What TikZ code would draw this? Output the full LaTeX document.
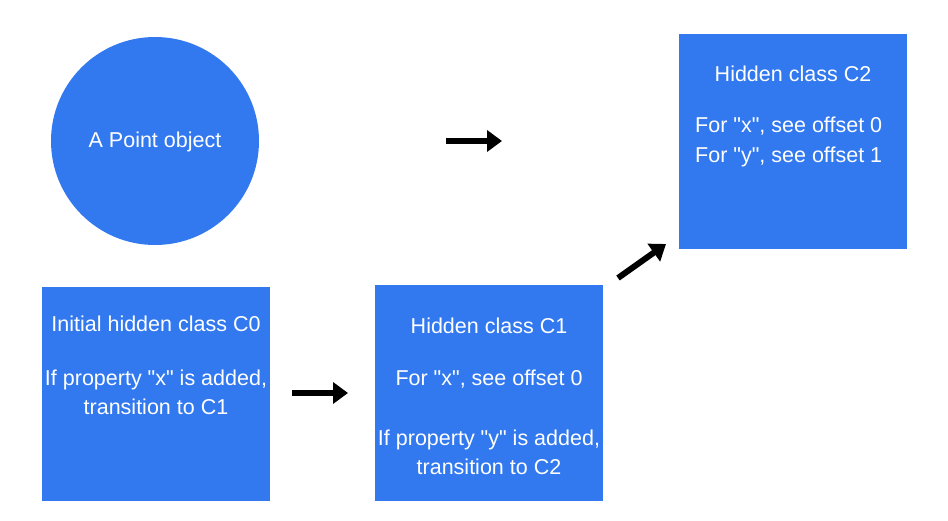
\documentclass[tikz,border=0pt]{standalone}
\usepackage{fontspec}
\setmainfont{Liberation Sans}
\usetikzlibrary{arrows, arrows.meta, calc}
\definecolor{boxblue}{RGB}{50,121,240}
\newcommand{\qt}{\textquotedbl}

\begin{document}
\begin{tikzpicture}[x=1pt, y=-1pt,
	cls/.style={fill=boxblue, draw=none},
	lbl/.style={text=white, font=\fontsize{21.5}{25}\selectfont, inner sep=0pt, anchor=base},
	arr/.style={line width=6pt, -{Triangle[length=15pt, width=21pt]}}]
	\useasboundingbox (0,0) rectangle (948,521);

	\fill [cls] (155,141) circle (104);
	\fill [cls] (42,287) rectangle (270,501);
	\fill [cls] (375,285) rectangle (603,501);
	\fill [cls] (679,34) rectangle (907,249);

	\node [lbl] (obj) at (155,148) {A Point object};

	\node [lbl] (cz) at (156,331) {Initial hidden class C0};
	\node [lbl] (czx) at (156,385) {If property \qt x\qt{} is added,};
	\node [lbl] (czt) at (156,414) {transition to C1};

	\node [lbl] (co) at (489,334) {Hidden class C1};
	\node [lbl] (cox) at (489,385) {For \qt x\qt, see offset 0};
	\node [lbl] (coy) at (489,445) {If property \qt y\qt{} is added,};
	\node [lbl] (cot) at (489,474) {transition to C2};

	\node [lbl] (ct) at (793,82) {Hidden class C2};
	\node [lbl, anchor=base west] (ctx) at (695,133) {For \qt x\qt, see offset 0};
	\node [lbl, anchor=base west] (cty) at (695,163) {For \qt y\qt, see offset 1};

	\coordinate (A) at (446,141);
	\coordinate (B) at (502,141);
	\coordinate (C) at (292,393);
	\coordinate (D) at (348,393);
	\coordinate (E) at (618,278);
	\coordinate (F) at (666,244);

	\draw [arr] (A) -- (B);
	\draw [arr] (C) -- (D);
	\draw [arr] (E) -- (F);

\end{tikzpicture}
\end{document}
